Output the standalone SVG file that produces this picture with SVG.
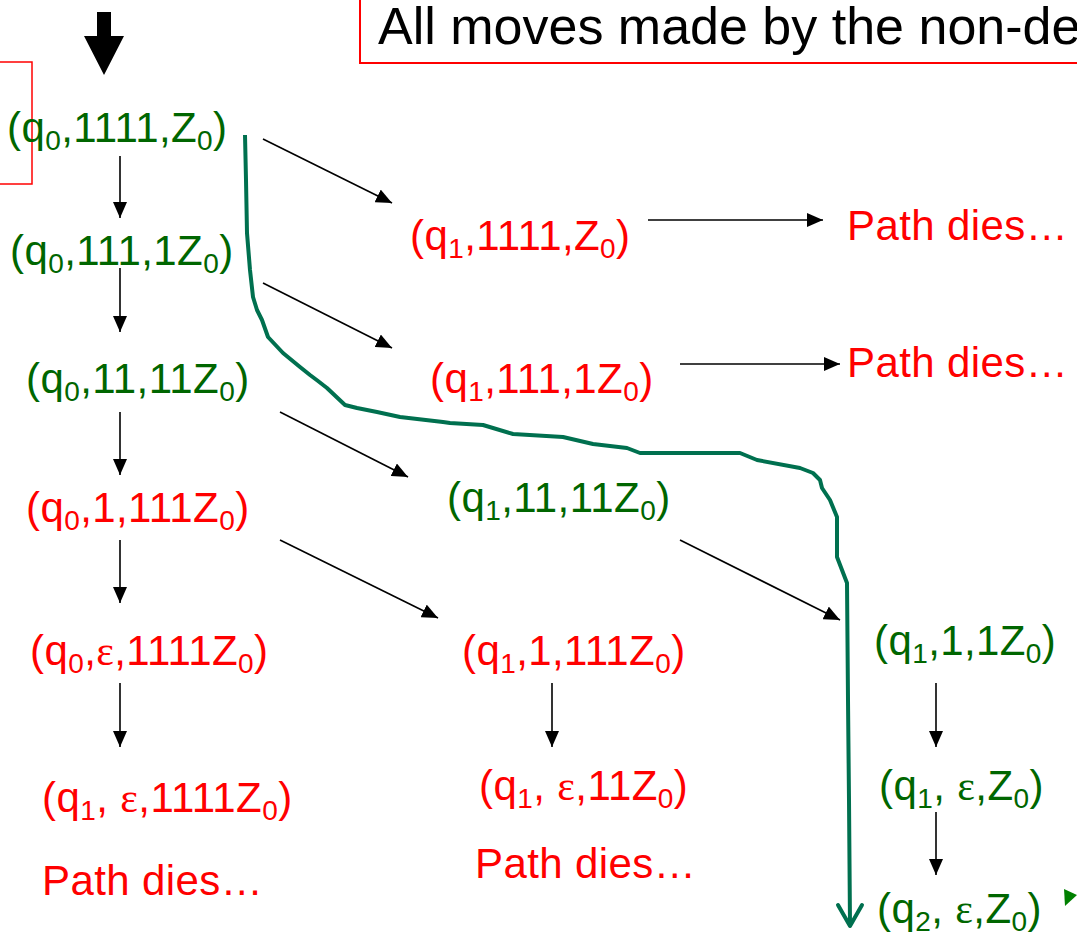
<svg xmlns="http://www.w3.org/2000/svg" width="1077" height="938" viewBox="0 0 1077 938">
<style>
text{font-family:"Liberation Sans",Arial,sans-serif;font-size:42px;letter-spacing:0.4px}
.g{fill:#006600}
.r{fill:#FF0000}
.s{font-size:28px}
.e{font-family:"Liberation Serif","Times New Roman",serif}
.t{fill:#000;font-size:52px;letter-spacing:0}
.ar{stroke:#000;stroke-width:1.6;fill:none;marker-end:url(#ah)}
</style>
<defs>
<marker id="ah" markerUnits="userSpaceOnUse" markerWidth="16" markerHeight="14" refX="16" refY="7" orient="auto">
<path d="M0,0 L16,7 L0,14 z" fill="#000"/>
</marker>
</defs>
<rect width="1077" height="938" fill="#fff"/>

<g id="title">
<rect x="360" y="-10" width="800" height="73" fill="none" stroke="#FF0000" stroke-width="2"/>
<text class="t" x="378" y="44">All moves made by the non-de</text>
</g>
<g id="mark">
<rect x="-10" y="62" width="42" height="122" fill="none" stroke="#FF0000" stroke-width="1.5"/>
</g>
<g id="start">
<polygon points="97,12 111,12 111,36 124,36 104,75 84,36 97,36" fill="#000"/>
</g>

<g id="connectors">
<line class="ar" x1="120" y1="156" x2="120" y2="218"/>
<line class="ar" x1="120" y1="268" x2="120" y2="332"/>
<line class="ar" x1="120" y1="412" x2="120" y2="475"/>
<line class="ar" x1="120" y1="540" x2="120" y2="603"/>
<line class="ar" x1="120" y1="683" x2="120" y2="747"/>
<line class="ar" x1="552" y1="683" x2="552" y2="747"/>
<line class="ar" x1="936" y1="683" x2="936" y2="747"/>
<line class="ar" x1="936" y1="812" x2="936" y2="875"/>
<line class="ar" x1="263" y1="139" x2="392" y2="203"/>
<line class="ar" x1="263" y1="283" x2="392" y2="348"/>
<line class="ar" x1="280" y1="412" x2="408" y2="477"/>
<line class="ar" x1="280" y1="540" x2="438" y2="618"/>
<line class="ar" x1="680" y1="540" x2="840" y2="620"/>
<line class="ar" x1="648" y1="220" x2="823" y2="220"/>
<line class="ar" x1="680" y1="364" x2="840" y2="364"/>
<path d="M245,135 L246,180 L247,233 L250,270 L253,297 L257,310 L262,320 L268,337 L283,353 L300,367 L310,375 L318,381 L327,388 L345,405 L357,408 L377,412 L400,417 L443,422 L450,423 L483,425 L513,434 L563,437 L593,444 L627,448 L640,453 L700,453 L740,453 L757,460 L800,468 L813,473 L820,480 L822,488 L830,500 L837,517 L837,557 L847,583 L848,700 L849,800 L850,925" fill="none" stroke="#00704F" stroke-width="4" stroke-linejoin="round"/>
<polyline points="838,905 850,926 862,905" fill="none" stroke="#00704F" stroke-width="4" stroke-linecap="round" stroke-linejoin="round"/>
<polygon points="1064,889 1077,895 1065,906" fill="#008000"/>
</g>

<g id="n1"><text class="g" x="7" y="142">(q<tspan class="s" dy="8">0</tspan><tspan dy="-8">,1111,Z</tspan><tspan class="s" dy="8">0</tspan><tspan dy="-8">)</tspan></text></g>
<g id="n2"><text class="g" x="10" y="265">(q<tspan class="s" dy="8">0</tspan><tspan dy="-8">,111,1Z</tspan><tspan class="s" dy="8">0</tspan><tspan dy="-8">)</tspan></text></g>
<g id="n3"><text class="g" x="26" y="393">(q<tspan class="s" dy="8">0</tspan><tspan dy="-8">,11,11Z</tspan><tspan class="s" dy="8">0</tspan><tspan dy="-8">)</tspan></text></g>
<g id="n4"><text class="r" x="26" y="522">(q<tspan class="s" dy="8">0</tspan><tspan dy="-8">,1,111Z</tspan><tspan class="s" dy="8">0</tspan><tspan dy="-8">)</tspan></text></g>
<g id="n5"><text class="r" x="30" y="665">(q<tspan class="s" dy="8">0</tspan><tspan dy="-8">,</tspan><tspan class="e">ε</tspan>,1111Z<tspan class="s" dy="8">0</tspan><tspan dy="-8">)</tspan></text></g>
<g id="n6"><text class="r" x="42" y="812">(q<tspan class="s" dy="8">1</tspan><tspan dy="-8">, </tspan><tspan class="e">ε</tspan>,1111Z<tspan class="s" dy="8">0</tspan><tspan dy="-8">)</tspan></text></g>
<g id="n7"><text class="r" x="42" y="895">Path dies…</text></g>
<g id="n8"><text class="r" x="410" y="250">(q<tspan class="s" dy="8">1</tspan><tspan dy="-8">,1111,Z</tspan><tspan class="s" dy="8">0</tspan><tspan dy="-8">)</tspan></text></g>
<g id="n9"><text class="r" x="430" y="393">(q<tspan class="s" dy="8">1</tspan><tspan dy="-8">,111,1Z</tspan><tspan class="s" dy="8">0</tspan><tspan dy="-8">)</tspan></text></g>
<g id="n10"><text class="g" x="447" y="512">(q<tspan class="s" dy="8">1</tspan><tspan dy="-8">,11,11Z</tspan><tspan class="s" dy="8">0</tspan><tspan dy="-8">)</tspan></text></g>
<g id="n11"><text class="r" x="462" y="665">(q<tspan class="s" dy="8">1</tspan><tspan dy="-8">,1,111Z</tspan><tspan class="s" dy="8">0</tspan><tspan dy="-8">)</tspan></text></g>
<g id="n12"><text class="r" x="479" y="800">(q<tspan class="s" dy="8">1</tspan><tspan dy="-8">, </tspan><tspan class="e">ε</tspan>,11Z<tspan class="s" dy="8">0</tspan><tspan dy="-8">)</tspan></text></g>
<g id="n13"><text class="r" x="475" y="878">Path dies…</text></g>
<g id="n14"><text class="r" x="847" y="240">Path dies…</text></g>
<g id="n15"><text class="r" x="847" y="377">Path dies…</text></g>
<g id="n16"><text class="g" x="874" y="655">(q<tspan class="s" dy="8">1</tspan><tspan dy="-8">,1,1Z</tspan><tspan class="s" dy="8">0</tspan><tspan dy="-8">)</tspan></text></g>
<g id="n17"><text class="g" x="879" y="800">(q<tspan class="s" dy="8">1</tspan><tspan dy="-8">, </tspan><tspan class="e">ε</tspan>,Z<tspan class="s" dy="8">0</tspan><tspan dy="-8">)</tspan></text></g>
<g id="n18"><text class="g" x="877" y="923">(q<tspan class="s" dy="8">2</tspan><tspan dy="-8">, </tspan><tspan class="e">ε</tspan>,Z<tspan class="s" dy="8">0</tspan><tspan dy="-8">)</tspan></text></g>
</svg>
